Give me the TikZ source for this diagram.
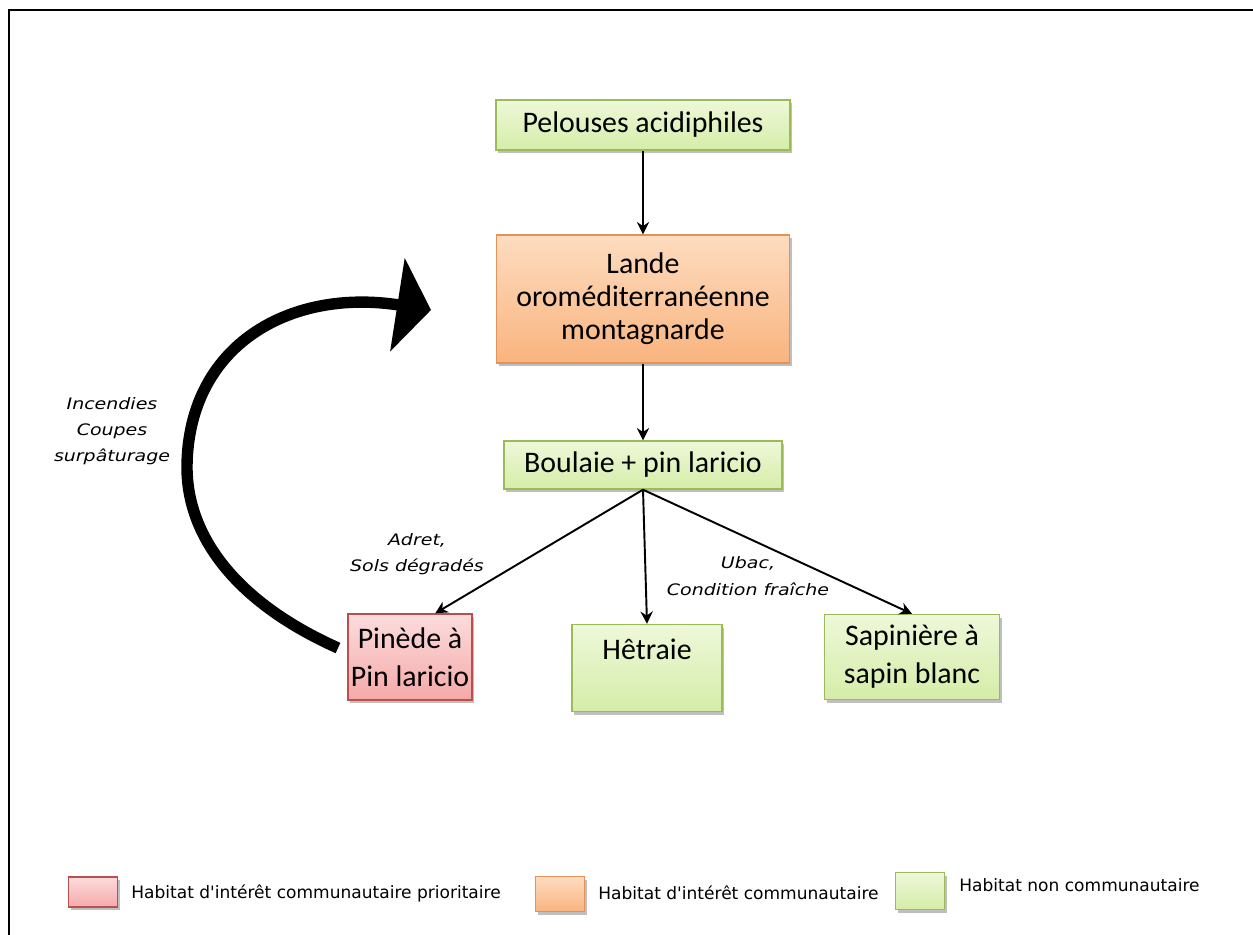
\documentclass[tikz,border=0pt]{standalone}
\usepackage{fontspec}
\setmainfont{Carlito}
\newfontfamily\notefont{DejaVu Sans}[FakeStretch=1.2]
\newfontfamily\legendfont{DejaVu Sans}
\usetikzlibrary{arrows.meta,shadows}

\definecolor{greentop}{HTML}{EEF8D9}
\definecolor{greenbot}{HTML}{D5EDA8}
\definecolor{greenline}{HTML}{9BBB59}
\definecolor{orangetop}{HTML}{FDDCC0}
\definecolor{orangebot}{HTML}{F9B47E}
\definecolor{orangeline}{HTML}{E2935A}
\definecolor{redtop}{HTML}{FCDCDC}
\definecolor{redbot}{HTML}{F5A9A9}
\definecolor{redline}{HTML}{B8504D}

\begin{document}
\begin{tikzpicture}[x=0.02cm,y=-0.02cm]

\tikzset{habitat/.style={draw, line width=0.8pt, align=center, inner sep=0pt,
            font=\fontsize{17}{19}\selectfont,
            drop shadow={shadow xshift=1.2pt, shadow yshift=-1.8pt, fill=black, opacity=0.25}},
         greenbox/.style={habitat, draw=greenline, top color=greentop, bottom color=greenbot},
         orangebox/.style={habitat, draw=orangeline, top color=orangetop, bottom color=orangebot},
         redbox/.style={habitat, draw=redline, top color=redtop, bottom color=redbot},
         link/.style={line width=1.1pt, -{Stealth[length=7pt, width=7pt]}},
         cause/.style={align=center, font=\notefont\itshape\fontsize{9}{15}\selectfont},
         legendtext/.style={anchor=west, inner sep=0pt, font=\legendfont\fontsize{9.7}{11}\selectfont}}

\useasboundingbox (0,0) rectangle (1253,935);
\draw[line width=1.6pt] (9,935) -- (9,10) -- (1253,10);

% succession
\node[greenbox, minimum width=5.88cm, minimum height=1cm] (pelouses) at (643,125) {Pelouses acidiphiles};
\node[orangebox, minimum width=5.86cm, minimum height=2.56cm, font=\fontsize{17}{18.8}\selectfont] (lande) at (643,299)
    {Lande\\oroméditerranéenne\\montagnarde};
\node[greenbox, minimum width=5.56cm, minimum height=0.96cm] (boulaie) at (643,465) {Boulaie + pin laricio};
\node[redbox, minimum width=2.48cm, minimum height=1.72cm, font=\fontsize{17}{21.6}\selectfont] (pinede) at (410,657)
    {Pinède à\\Pin laricio};
\node[greenbox, minimum width=3cm, minimum height=1.74cm, font=\fontsize{17}{21.6}\selectfont] (hetraie) at (647,668)
    {Hêtraie\\\mbox{}};
\node[greenbox, minimum width=3.5cm, minimum height=1.7cm, font=\fontsize{17}{21.6}\selectfont] (sapin) at (912,657)
    {Sapinière à\\sapin blanc};

\draw[link] (pelouses) -- (lande);
\draw[link] (lande) -- (boulaie);
\draw[link] (boulaie.south) -- (pinede.60);
\draw[link] (boulaie.south) -- (hetraie.north);
\draw[link] (boulaie.south) -- (sapin.north);

\node[cause] (adret) at (417,554) {Adret,\\Sols dégradés};
\node[cause] (ubac) at (748,576) {Ubac,\\Condition fraîche};

% retour vers la lande
\coordinate (loopstart) at (338,648);
\coordinate (loopend) at (431,310);
\draw[line width=6.5pt, -{Triangle[width=1.86cm, length=0.68cm]}] (loopstart)
    .. controls (235,602) and (186,535) .. (187,465)
    .. controls (189,345) and (290,288) .. (loopend);
\node[cause] (feux) at (112,431) {Incendies\\Coupes\\surpâturage};

% legende
\node[redbox, minimum width=0.98cm, minimum height=0.6cm] (legprio) at (93,892) {};
\node[legendtext] (txtprio) at (131,893) {Habitat d'intérêt communautaire prioritaire};
\node[orangebox, minimum width=0.98cm, minimum height=0.7cm] (legcomm) at (560,894) {};
\node[legendtext] (txtcomm) at (598,893) {Habitat d'intérêt communautaire};
\node[greenbox, minimum width=0.98cm, minimum height=0.74cm] (legnon) at (920,891) {};
\node[legendtext] (txtnon) at (959,885) {Habitat non communautaire};

\end{tikzpicture}
\end{document}
